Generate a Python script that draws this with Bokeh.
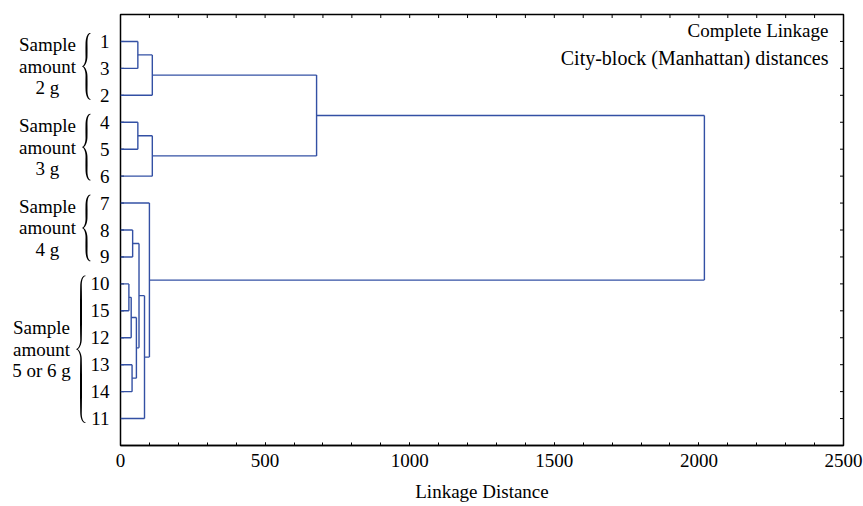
import numpy as np
from bokeh.plotting import figure
from bokeh.models import Range1d, FixedTicker, LinearAxis, Label
from bokeh.layouts import row
from bokeh.embed import file_html
from bokeh.resources import INLINE
from bokeh.core.properties import value

# ---------------- data ----------------
leaf_order = [1, 3, 2, 4, 5, 6, 7, 8, 9, 10, 15, 12, 13, 14, 11]
# merge j (1-based): children refs (positive = leaf id, negative = -merge index), height
merge_left = [1, -1, 4, -3, -2, 8, 10, -7, 13, -8, -6, -11, 7, -5]
merge_right = [3, 2, 5, 6, -4, 9, 15, 12, 14, -9, -10, 11, -12, -13]
merge_height = [60, 110, 60, 110, 678, 42, 29, 37, 40, 55, 64, 83, 100, 2019]

group_labels = ["Sample\namount\n2 g", "Sample\namount\n3 g",
                "Sample\namount\n4 g", "Sample\namount\n5 or 6 g"]
group_leaves = [[1, 3, 2], [4, 5, 6], [7, 8, 9], [10, 15, 12, 13, 14, 11]]

x_ticks = [0, 500, 1000, 1500, 2000, 2500]
x_minor_ticks = list(range(0, 2501, 100))
x_title = "Linkage Distance"
info_lines = ["Complete Linkage", "City-block (Manhattan) distances"]

# ---------------- layout / style ----------------
FONT = "Liberation Serif"
FS = "19px"
LINE_COLOR = "#3350A4"
LEFT_W = 110
GAP = 10
TOP = 14
BOTTOM = 61
FRAME_W, FRAME_H = 723, 431
X_MAX = 2500
Y_SPAN = 16
KY = FRAME_H / Y_SPAN      # px per y unit
KX = FRAME_W / X_MAX       # px per x unit
TICK_PX = 3.5

# ---------------- dendrogram geometry ----------------
pos = {leaf: i + 1 for i, leaf in enumerate(leaf_order)}
node_y, node_h = {}, {}


def ref_info(r):
    if r > 0:
        return pos[r], 0.0
    return node_y[-r], node_h[-r]


x0s, y0s, x1s, y1s = [], [], [], []
for j, (a, b, h) in enumerate(zip(merge_left, merge_right, merge_height), start=1):
    ya, ha = ref_info(a)
    yb, hb = ref_info(b)
    x0s += [ha, hb, h]
    y0s += [ya, yb, ya]
    x1s += [h, h, h]
    y1s += [ya, yb, yb]
    node_y[j] = (ya + yb) / 2
    node_h[j] = h

# ---------------- main figure ----------------
p = figure(frame_width=FRAME_W, frame_height=FRAME_H,
           x_range=Range1d(0, X_MAX), y_range=Range1d(Y_SPAN, 0),
           x_axis_location=None, y_axis_location=None,
           min_border_left=GAP, min_border_right=20, min_border_top=TOP,
           min_border_bottom=BOTTOM, output_backend="svg", toolbar_location=None)
p.outline_line_color = "black"
p.outline_line_width = 1.5
for g in p.grid:
    g.visible = False

xb = LinearAxis(ticker=FixedTicker(ticks=x_ticks, minor_ticks=x_minor_ticks))
xb.axis_line_color = "black"
xb.axis_line_width = 1.5
xb.major_tick_in = 3
xb.major_tick_out = 0
xb.minor_tick_in = 3
xb.minor_tick_out = 0
xb.major_tick_line_color = "black"
xb.minor_tick_line_color = "black"
xb.major_label_text_font = FONT
xb.major_label_text_font_size = FS
xb.major_label_text_color = "black"
xb.major_label_standoff = 8
xb.axis_label = x_title
xb.axis_label_text_font = FONT
xb.axis_label_text_font_size = FS
xb.axis_label_text_font_style = "normal"
xb.axis_label_text_color = "black"
xb.axis_label_standoff = 11
p.add_layout(xb, "below")

# inward ticks on the top, left and right frame edges (in data units)
leaf_positions = [pos[l] for l in leaf_order]
ty = TICK_PX / KY
tx = TICK_PX / KX
p.segment(x0=x_minor_ticks, y0=[0] * len(x_minor_ticks),
          x1=x_minor_ticks, y1=[ty] * len(x_minor_ticks),
          line_color="black", line_width=1)
p.segment(x0=[0] * len(leaf_positions), y0=leaf_positions,
          x1=[tx] * len(leaf_positions), y1=leaf_positions,
          line_color="black", line_width=1)
p.segment(x0=[X_MAX] * len(leaf_positions), y0=leaf_positions,
          x1=[X_MAX - tx] * len(leaf_positions), y1=leaf_positions,
          line_color="black", line_width=1)

p.segment(x0=x0s, y0=y0s, x1=x1s, y1=y1s, line_color=LINE_COLOR, line_width=1.4)

info_x = 2448
info_y = [0.61, 1.62]
info_size = ["19px", "20px"]
for t, yy, fs in zip(info_lines, info_y, info_size):
    p.add_layout(Label(x=info_x, y=yy, text=t, text_align="right",
                       text_baseline="alphabetic", text_font=FONT,
                       text_font_size=fs, text_color="black"))

# ---------------- left panel (leaf labels, braces, group labels) ----------------
pl = figure(frame_width=LEFT_W, frame_height=FRAME_H,
            x_range=Range1d(0, LEFT_W), y_range=p.y_range,
            x_axis_location=None, y_axis_location=None,
            min_border_left=0, min_border_right=0, min_border_top=TOP,
            min_border_bottom=BOTTOM, output_backend="svg", toolbar_location=None)
pl.outline_line_color = None
for g in pl.grid:
    g.visible = False

pl.text(x=[109] * len(leaf_order), y=leaf_positions, text=[str(l) for l in leaf_order],
        text_align="right", text_baseline="middle", text_font=value(FONT),
        text_font_size=FS, text_color="black")


def bez(p0, p1, p2, p3, n=28):
    t = np.linspace(0, 1, n)[:, None]
    P0, P1, P2, P3 = (np.array(q, dtype=float) for q in (p0, p1, p2, p3))
    return ((1 - t) ** 3) * P0 + 3 * ((1 - t) ** 2) * t * P1 + 3 * (1 - t) * t ** 2 * P2 + t ** 3 * P3


def arm_polygon(pts, wmin=0.6, wmax=2.1):
    d = np.diff(pts, axis=0)
    seg = np.hypot(d[:, 0], d[:, 1])
    L = np.concatenate([[0], np.cumsum(seg)])
    u = L / L[-1]
    w = wmin + (wmax - wmin) * np.sin(np.pi * u) ** 0.6
    tan = np.gradient(pts, axis=0)
    tan /= np.hypot(tan[:, 0], tan[:, 1])[:, None] + 1e-9
    nrm = np.stack([-tan[:, 1], tan[:, 0]], axis=1)
    left = pts + nrm * (w[:, None] / 2)
    right = pts - nrm * (w[:, None] / 2)
    poly = np.vstack([left, right[::-1]])
    return list(poly[:, 0]), list(poly[:, 1] / KY)


def brace(top, bottom, x_tip, depth):
    T, B = top * KY, bottom * KY
    M = (T + B) / 2
    s = x_tip - 0.5 * depth
    m = x_tip - depth
    r = min(10.0, (B - T) / 5)
    up = np.vstack([
        bez((x_tip, T), (s + 0.4 * (x_tip - s), T), (s, T + 0.4 * r), (s, T + r)),
        bez((s, T + r), (s, T + r), (s, M - r), (s, M - r), n=6)[1:],
        bez((s, M - r), (s, M - 0.4 * r), (m + 0.4 * (s - m), M), (m, M))[1:],
    ])
    lo = np.vstack([
        bez((m, M), (m + 0.4 * (s - m), M), (s, M + 0.4 * r), (s, M + r)),
        bez((s, M + r), (s, M + r), (s, B - r), (s, B - r), n=6)[1:],
        bez((s, B - r), (s, B - 0.4 * r), (s + 0.4 * (x_tip - s), B), (x_tip, B))[1:],
    ])
    return [arm_polygon(up), arm_polygon(lo)], M / KY


brace_tip_x = [90, 90, 90, 85]
brace_depth = [8, 8, 8, 9]
group_text_x = [47, 47, 47, 41]
bx, by, mids = [], [], []
for leaves, xt, dp in zip(group_leaves, brace_tip_x, brace_depth):
    ps = [pos[l] for l in leaves]
    arms, mid = brace(min(ps) - 0.3, max(ps) + 0.15, xt, dp)
    for xs_, ys_ in arms:
        bx.append(xs_)
        by.append(ys_)
    mids.append(mid)

pl.patches(xs=bx, ys=by, fill_color="black", line_color=None)
pl.text(x=group_text_x, y=mids, text=group_labels, text_align="center",
        text_baseline="middle", text_line_height=1.02, text_font=value(FONT),
        text_font_size=FS, text_color="black")

layout = row(pl, p)
open("out.html", "w").write(file_html(layout, INLINE))
